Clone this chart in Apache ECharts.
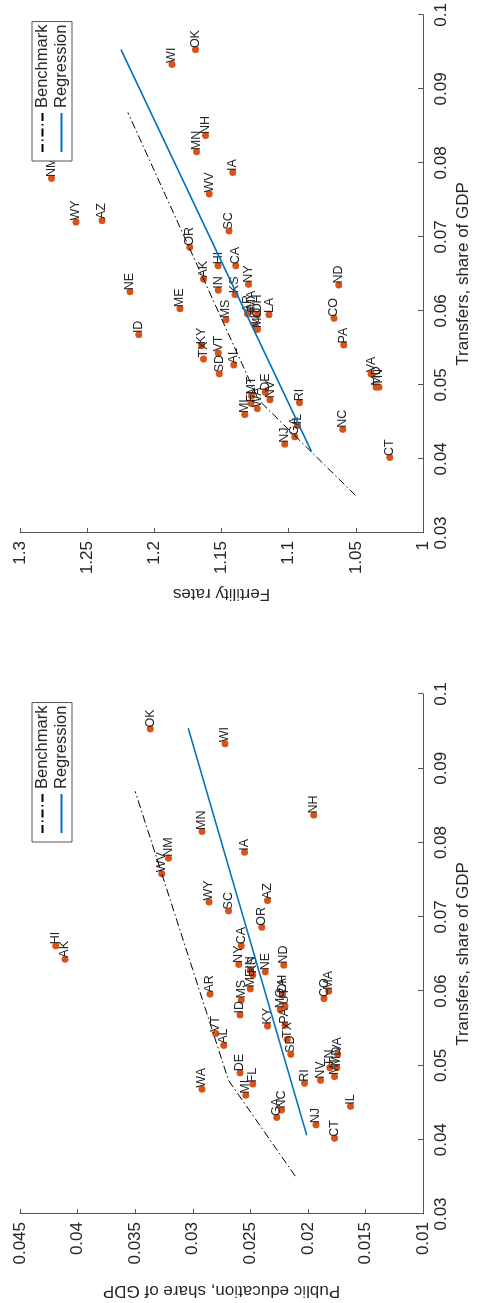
<!DOCTYPE html>
<html>
<head>
<meta charset="utf-8">
<script src="https://cdn.jsdelivr.net/npm/echarts@6/dist/echarts.min.js"></script>
<style>
  html, body { margin: 0; padding: 0; background: #fff; width: 477px; height: 1303px; overflow: hidden; }
  /* the figure is laid out landscape and turned a quarter turn */
  #chart { position: absolute; left: 0; top: 0; width: 1303px; height: 477px;
           transform-origin: 0 0; transform: rotate(-90deg) translate(-1303px, 0); }
</style>
</head>
<body>
<div id="chart"></div>
<script>
// State-level data: transfers, public education spending and fertility
const states = ['AL','AK','AZ','AR','CA','CO','CT','DE','FL','GA','HI','ID','IL','IN','IA','KS','KY','LA','ME','MD',
                'MA','MI','MN','MS','MO','MT','NE','NV','NH','NJ','NM','NY','NC','ND','OH','OK','OR','PA','RI','SC',
                'SD','TN','TX','UT','VT','VA','WA','WV','WI','WY'];
const transfers = [0.0527,0.0643,0.0722,0.0596,0.0661,0.0590,0.0402,0.0490,0.0475,0.0430,0.0661,0.0568,0.0445,0.0628,0.0787,0.0622,0.0553,0.0595,0.0603,0.0497,
                   0.0600,0.0460,0.0815,0.0588,0.0575,0.0485,0.0626,0.0480,0.0837,0.0420,0.0779,0.0636,0.0440,0.0635,0.0595,0.0953,0.0686,0.0554,0.0476,0.0708,
                   0.0515,0.0497,0.0535,0.0580,0.0543,0.0515,0.0468,0.0758,0.0933,0.0720];
const publicEducation = [0.0273,0.0411,0.0235,0.0285,0.0258,0.0186,0.0177,0.0259,0.0248,0.0227,0.0419,0.0259,0.0163,0.0250,0.0255,0.0248,0.0235,0.0222,0.0250,0.0175,
                         0.0182,0.0254,0.0292,0.0258,0.0224,0.0177,0.0237,0.0189,0.0195,0.0193,0.0321,0.0260,0.0223,0.0221,0.0222,0.0337,0.0240,0.0220,0.0203,0.0269,
                         0.0215,0.0181,0.0218,0.0220,0.0280,0.0174,0.0292,0.0327,0.0272,0.0286];
const fertility = [1.141,1.1635,1.239,1.1306,1.1394,1.0664,1.0248,1.1175,1.128,1.0956,1.1526,1.2117,1.0934,1.1525,1.1416,1.140,1.165,1.1146,1.181,1.035,
                   1.128,1.1328,1.1686,1.1467,1.1233,1.1277,1.2182,1.1139,1.162,1.1029,1.2766,1.130,1.0598,1.0627,1.1233,1.1693,1.1737,1.0591,1.092,1.1445,
                   1.1518,1.0328,1.1635,1.125,1.1525,1.0387,1.1234,1.1591,1.1869,1.2584];

// Benchmark (model) and fitted regression lines
const eduBenchX = [0.0351, 0.0480, 0.0869];
const eduBenchY = [0.0211, 0.0269, 0.0350];
const eduRegX = [0.0406, 0.0954];
const eduRegY = [0.0201, 0.0304];
const fertBenchX = [0.0351, 0.0480, 0.0868];
const fertBenchY = [1.0504, 1.1226, 1.2197];
const fertRegX = [0.0410, 0.0953];
const fertRegY = [1.083, 1.2248];

const TEXT = '#262626';
const AXIS = '#555555';
const FONT = 'Liberation Sans, Arial, Helvetica, sans-serif';
const DOT = '#D95319';
const BLUE = '#0072BD';

const zip = (xs, ys) => xs.map((x, i) => [x, ys[i]]);
const pts = ys => transfers.map((t, i) => [t, ys[i], states[i]]);

function xAxis(grid) {
  return {
    type: 'value', gridIndex: grid, min: 0.03, max: 0.1, interval: 0.01,
    name: 'Transfers, share of GDP', nameLocation: 'middle', nameGap: 26,
    nameTextStyle: { fontSize: 17, color: TEXT, fontFamily: FONT },
    axisLine: { show: true, onZero: false, lineStyle: { color: AXIS, width: 1 } },
    axisTick: { show: true, inside: true, length: 5, lineStyle: { color: AXIS } },
    axisLabel: { fontSize: 17, color: TEXT, fontFamily: FONT, margin: 10 },
    splitLine: { show: false }
  };
}
function yAxis(grid, min, max, interval, name, gap) {
  return {
    type: 'value', gridIndex: grid, min: min, max: max, interval: interval,
    name: name, nameLocation: 'middle', nameGap: gap, nameRotate: 90,
    nameTextStyle: { fontSize: 17, color: TEXT, fontFamily: FONT },
    axisLine: { show: true, onZero: false, lineStyle: { color: AXIS, width: 1 } },
    axisTick: { show: true, inside: true, length: 5, lineStyle: { color: AXIS } },
    axisLabel: { fontSize: 17, color: TEXT, fontFamily: FONT, margin: 8 },
    splitLine: { show: false }
  };
}
function scatter(grid, ys) {
  return {
    type: 'scatter', xAxisIndex: grid, yAxisIndex: grid, data: pts(ys),
    symbolSize: 7, itemStyle: { color: DOT, opacity: 1 },
    label: { show: true, position: 'right', distance: -2, formatter: p => p.data[2],
             fontSize: 12.5, color: TEXT, fontFamily: FONT },
    emphasis: { disabled: true }, z: 3
  };
}
function bench(grid, xs, ys) {
  return {
    name: 'Benchmark', type: 'line', xAxisIndex: grid, yAxisIndex: grid, data: zip(xs, ys),
    showSymbol: false, symbol: 'none', color: '#000',
    lineStyle: { color: '#000', width: 1, type: [8, 3, 1.5, 3] }, z: 4
  };
}
function reg(grid, xs, ys) {
  return {
    name: 'Regression', type: 'line', xAxisIndex: grid, yAxisIndex: grid, data: zip(xs, ys),
    showSymbol: false, symbol: 'none', color: BLUE,
    lineStyle: { color: BLUE, width: 1.6, type: 'solid' }, z: 4
  };
}
function legend(left) {
  return {
    orient: 'vertical', left: left, top: 32, width: 126,
    padding: [2, 3, 2, 8], itemGap: 2, itemWidth: 39, itemHeight: 17,
    borderColor: AXIS, borderWidth: 1, backgroundColor: '#fff',
    itemStyle: { opacity: 0 },
    textStyle: { fontSize: 16.5, color: TEXT, fontFamily: FONT },
    data: ['Benchmark', 'Regression'], selectedMode: false
  };
}

const chart = echarts.init(document.getElementById('chart'));
chart.setOption({
  animation: false,
  backgroundColor: '#fff',
  grid: [
    { left: 89, top: 20, width: 520, height: 411 },
    { left: 770, top: 20, width: 520, height: 411 }
  ],
  xAxis: [xAxis(0), xAxis(1)],
  yAxis: [
    yAxis(0, 0.01, 0.045, 0.005, 'Public education, share of GDP', 68),
    yAxis(1, 1, 1.3, 0.05, 'Fertility rates', 52)
  ],
  legend: [legend(461), legend(1142)],
  series: [
    scatter(0, publicEducation),
    bench(0, eduBenchX, eduBenchY),
    reg(0, eduRegX, eduRegY),
    scatter(1, fertility),
    bench(1, fertBenchX, fertBenchY),
    reg(1, fertRegX, fertRegY)
  ]
});
</script>
</body>
</html>
